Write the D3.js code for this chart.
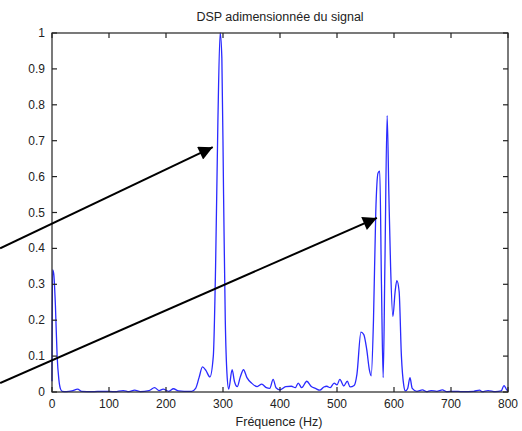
<!DOCTYPE html>
<html>
<head>
<meta charset="utf-8">
<script src="https://cdn.jsdelivr.net/npm/d3@7"></script>
<style>
  body { margin: 0; background: #fff; }
  text { font-family: "Liberation Sans", Arial, sans-serif; fill: #222; }
</style>
</head>
<body>
<svg id="chart" width="522" height="431"></svg>
<script>
// spectrum
const freq = [0, 1, 3, 6, 9, 12, 15, 18, 25, 35, 45, 52, 70, 90, 110, 125, 135, 145, 155, 170, 180, 188, 195, 205, 213, 222, 232, 245,
  252, 258, 264, 270, 277, 283, 287, 291, 295, 298, 301, 304, 307, 310, 316, 320, 325, 330, 336, 342, 350, 360, 368, 376, 382,
  388, 393, 400, 410, 420, 427, 432, 438, 447, 455, 462, 470, 477, 482, 488, 495, 500, 505, 512, 518, 523, 530, 535, 542, 547,
  552, 557, 560, 564, 568, 572, 575, 578, 581, 584, 588, 591, 594, 598, 602, 605, 609, 613, 617, 620, 624, 628, 632, 640, 650,
  657, 665, 675, 685, 692, 705, 720, 740, 750, 755, 765, 778, 788, 793, 797, 800];
const dsp = [0.03, 0.34, 0.33, 0.24, 0.10, 0.035, 0.008, 0.002, 0.001, 0.003, 0.008, 0.002, 0.001, 0.002, 0.001, 0.004, 0.001, 0.005, 0.001, 0.004, 0.012, 0.004, 0.008, 0.002, 0.009, 0.003, 0.002, 0.002,
  0.01, 0.04, 0.07, 0.06, 0.042, 0.1, 0.35, 0.75, 1.0, 0.93, 0.55, 0.2, 0.05, 0.008, 0.062, 0.03, 0.015, 0.04, 0.062, 0.04, 0.025, 0.015, 0.022, 0.012, 0.01,
  0.035, 0.012, 0.006, 0.015, 0.016, 0.012, 0.025, 0.012, 0.03, 0.015, 0.01, 0.005, 0.014, 0.016, 0.012, 0.025, 0.02, 0.035, 0.017, 0.03, 0.014, 0.018, 0.05, 0.167, 0.16,
  0.12, 0.06, 0.045, 0.2, 0.5, 0.61, 0.615, 0.3, 0.04, 0.35, 0.77, 0.55, 0.35, 0.21, 0.28, 0.31, 0.28, 0.1, 0.02, 0.003, 0.01, 0.04, 0.01, 0.002, 0.006,
  0.001, 0.004, 0.002, 0.006, 0.001, 0.002, 0.001, 0.002, 0.005, 0.001, 0.004, 0.001, 0.003, 0.018, 0.008, 0.002];

const xTicks = [0, 100, 200, 300, 400, 500, 600, 700, 800];
const yTicks = [0, 0.1, 0.2, 0.3, 0.4, 0.5, 0.6, 0.7, 0.8, 0.9, 1];

// annotation arrows, [start, tip] in data units (Hz, dsp)
const arrows = [
  [[-91, 0.40], [282, 0.682]],
  [[-91, 0.025], [570, 0.485]]
];

const svg = d3.select("#chart");
const x = d3.scaleLinear().domain([0, 800]).range([52, 508]);
const y = d3.scaleLinear().domain([0, 1]).range([392, 33]);

// title
svg.append("text")
  .attr("x", 280).attr("y", 21)
  .attr("text-anchor", "middle")
  .style("font-size", "12.5px")
  .text("DSP adimensionnée du signal");

// the curve
svg.append("path")
  .datum(d3.zip(freq, dsp))
  .attr("fill", "none")
  .attr("stroke", "#2a2aff")
  .attr("stroke-width", 1.3)
  .attr("stroke-linejoin", "round")
  .attr("d", d3.line().x(d => x(d[0])).y(d => y(d[1])).curve(d3.curveMonotoneX));

// axes box, matlab style: ticks inward on all sides
const tick = 5;
const box = svg.append("g").attr("stroke", "#222").attr("stroke-width", 1.2).attr("fill", "none");
box.append("rect")
  .attr("x", x(0)).attr("y", y(1))
  .attr("width", x(800) - x(0)).attr("height", y(0) - y(1));

box.selectAll("line.xt")
  .data(xTicks).enter()
  .append("line")
  .attr("x1", d => x(d)).attr("x2", d => x(d))
  .attr("y1", y(0)).attr("y2", y(0) - tick);
box.selectAll("line.xt2")
  .data(xTicks).enter()
  .append("line")
  .attr("x1", d => x(d)).attr("x2", d => x(d))
  .attr("y1", y(1)).attr("y2", y(1) + tick);
box.selectAll("line.yt")
  .data(yTicks).enter()
  .append("line")
  .attr("x1", x(0)).attr("x2", x(0) + tick)
  .attr("y1", d => y(d)).attr("y2", d => y(d));
box.selectAll("line.yt2")
  .data(yTicks).enter()
  .append("line")
  .attr("x1", x(800)).attr("x2", x(800) - tick)
  .attr("y1", d => y(d)).attr("y2", d => y(d));

// tick labels
svg.selectAll("text.xl")
  .data(xTicks).enter()
  .append("text")
  .attr("x", d => x(d)).attr("y", 408)
  .attr("text-anchor", "middle")
  .style("font-size", "12px")
  .text(d => d);
svg.selectAll("text.yl")
  .data(yTicks).enter()
  .append("text")
  .attr("x", 45).attr("y", d => y(d) + 4)
  .attr("text-anchor", "end")
  .style("font-size", "12px")
  .text(d => d);

svg.append("text")
  .attr("x", 279).attr("y", 426)
  .attr("text-anchor", "middle")
  .style("font-size", "12.5px")
  .text("Fréquence (Hz)");

// arrows
svg.append("defs").append("marker")
  .attr("id", "head")
  .attr("viewBox", "0 0 10 10")
  .attr("refX", 10).attr("refY", 5)
  .attr("markerUnits", "userSpaceOnUse")
  .attr("markerWidth", 17).attr("markerHeight", 14)
  .attr("orient", "auto")
  .append("path")
  .attr("d", "M0,0 L10,5 L0,10 Z")
  .attr("fill", "#000");

svg.selectAll("line.arrow")
  .data(arrows).enter()
  .append("line")
  .attr("x1", d => x(d[0][0])).attr("y1", d => y(d[0][1]))
  .attr("x2", d => x(d[1][0])).attr("y2", d => y(d[1][1]))
  .attr("stroke", "#000")
  .attr("stroke-width", 2)
  .attr("marker-end", "url(#head)");
</script>
</body>
</html>
